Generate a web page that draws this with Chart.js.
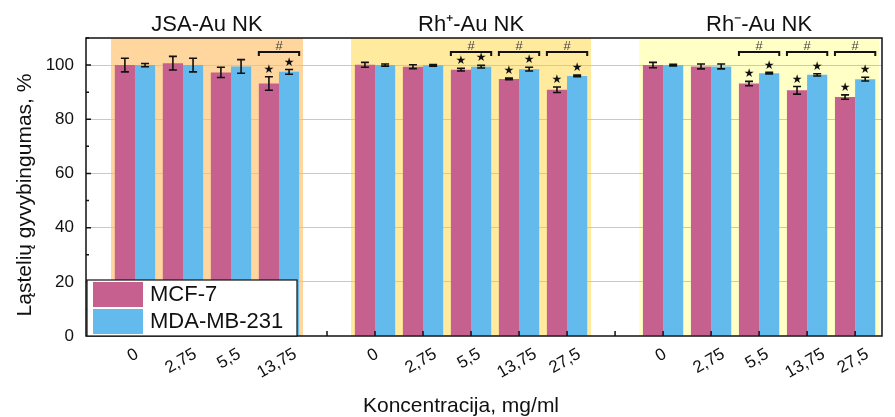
<!DOCTYPE html>
<html>
<head>
<meta charset="utf-8">
<script src="https://cdn.jsdelivr.net/npm/chart.js@4.4.0/dist/chart.umd.min.js"></script>
<style>
  body { margin: 0; background: #fff; }
  #wrap { width: 895px; height: 417px; }
</style>
</head>
<body>
<div id="wrap"><canvas id="chart"></canvas></div>
<script>
// tick labels (empty ones are the gaps between groups)
const categories = ['0', '2,75', '5,5', '13,75', '',
  '0', '2,75', '5,5', '13,75', '27,5', '',
  '0', '2,75', '5,5', '13,75', '27,5'];

const groupTitles = ['JSA-Au NK', 'Rh\u207A-Au NK', 'Rh\u207B-Au NK'];
const groupStart = [0, 5, 11];
const groupEnd = [3, 9, 15];

const mcf7 = [100.0, 100.7, 97.3, 93.2, null, 100.1, 99.4, 98.3, 94.9, 90.9, null, 100.0, 99.5, 93.2, 90.7, 88.2];
const mcf7Err = [2.5, 2.5, 1.9, 2.5, null, 0.9, 0.7, 0.5, 0.3, 1.0, null, 1.0, 0.9, 0.8, 1.4, 0.8];
const mda = [100.0, 100.0, 99.5, 97.5, null, 100.0, 99.9, 99.4, 98.5, 96.0, null, 100.0, 99.5, 97.0, 96.4, 94.8];
const mdaErr = [0.6, 2.5, 2.5, 0.9, null, 0.4, 0.3, 0.5, 0.7, 0.3, null, 0.3, 0.9, 0.3, 0.4, 0.7];

// * = significant vs control, # = significant between cell lines
const starSig = [0, 0, 0, 1, 0, 0, 0, 1, 1, 1, 0, 0, 0, 1, 1, 1];
const hashSig = [0, 0, 0, 1, 0, 0, 0, 1, 1, 1, 0, 0, 0, 1, 1, 1];

// styles
const pink = '#C5608F';
const blue = '#62BBEC';
const groupColors = ['#FED69E', '#FFEA9E', '#FFFFC6'];
const FONT = '"Liberation Sans", Arial, sans-serif';

Chart.defaults.font.family = FONT;
Chart.defaults.color = '#111';

function toPoints(arr) {
  return arr.map((v, i) => ({ x: i, y: v })).filter(p => p.y !== null);
}

const overlay = {
  id: 'overlay',
  // shading goes under the grid lines
  beforeDraw(chart) {
    const { ctx, chartArea: a, scales: { x } } = chart;
    ctx.save();
    groupStart.forEach((s, g) => {
      const l = x.getPixelForValue(s - 0.5);
      const r = x.getPixelForValue(groupEnd[g] + 0.5);
      ctx.fillStyle = groupColors[g];
      ctx.fillRect(l, a.top, r - l, a.bottom - a.top);
    });
    ctx.restore();
  },
  afterDatasetsDraw(chart) {
    const { ctx, scales: { y } } = chart;
    const errs = [mcf7Err, mdaErr];
    const vals = [mcf7, mda];
    ctx.save();
    ctx.strokeStyle = '#111';
    ctx.fillStyle = '#111';
    ctx.lineWidth = 1.6;
    const bars = [{}, {}];
    [0, 1].forEach(di => {
      const meta = chart.getDatasetMeta(di);
      const ds = chart.data.datasets[di];
      meta.data.forEach((bar, k) => {
        const i = ds.data[k].x;
        bars[di][i] = bar;
        const v = vals[di][i], e = errs[di][i];
        const top = y.getPixelForValue(v + e), bot = y.getPixelForValue(v - e);
        ctx.beginPath();
        ctx.moveTo(bar.x, top); ctx.lineTo(bar.x, bot);
        ctx.moveTo(bar.x - 4, top); ctx.lineTo(bar.x + 4, top);
        ctx.moveTo(bar.x - 4, bot); ctx.lineTo(bar.x + 4, bot);
        ctx.stroke();
        if (starSig[i]) {
          ctx.font = '12px "DejaVu Sans", sans-serif';
          ctx.textAlign = 'center';
          ctx.textBaseline = 'middle';
          ctx.fillText('\u2605', bar.x, top - 7);
        }
      });
    });
    // brackets with #
    const by = y.getPixelForValue(104.8);
    hashSig.forEach((h, i) => {
      if (!h) return;
      const p = bars[0][i], b = bars[1][i];
      const l = p.x - p.width / 2, r = b.x + b.width / 2;
      ctx.lineWidth = 2;
      ctx.beginPath();
      ctx.moveTo(l, by + 4); ctx.lineTo(l, by); ctx.lineTo(r, by); ctx.lineTo(r, by + 4);
      ctx.stroke();
      ctx.fillStyle = '#444';
      ctx.font = '13px ' + FONT;
      ctx.textAlign = 'center';
      ctx.textBaseline = 'middle';
      ctx.fillText('#', (l + r) / 2, by - 6);
      ctx.fillStyle = '#111';
    });
    ctx.restore();
  },
  afterDraw(chart) {
    const { ctx, chartArea: a, scales: { x, y } } = chart;
    ctx.save();
    // frame
    ctx.strokeStyle = '#111';
    ctx.lineWidth = 1.5;
    ctx.strokeRect(a.left, a.top, a.right - a.left, a.bottom - a.top);
    // inner ticks
    ctx.beginPath();
    for (let v = 10; v <= 110; v += 10) {
      const py = y.getPixelForValue(v);
      ctx.moveTo(a.left, py); ctx.lineTo(a.left + (v % 20 === 0 ? 5 : 3), py);
    }
    categories.forEach((c, i) => {
      const px = x.getPixelForValue(i);
      ctx.moveTo(px, a.bottom); ctx.lineTo(px, a.bottom - 5);
    });
    ctx.stroke();
    // rotated x labels
    ctx.fillStyle = '#111';
    ctx.font = '17px ' + FONT;
    ctx.textAlign = 'center';
    ctx.textBaseline = 'middle';
    categories.forEach((c, i) => {
      if (!c) return;
      const w = ctx.measureText(c).width;
      ctx.save();
      ctx.translate(x.getPixelForValue(i) - 2, a.bottom + 17 + w * 0.25);
      ctx.rotate(-Math.PI / 6);
      ctx.fillText(c, 0, 0);
      ctx.restore();
    });
    // group titles
    ctx.font = '22px ' + FONT;
    ctx.textBaseline = 'alphabetic';
    groupTitles.forEach((t, g) => {
      const cx = x.getPixelForValue((groupStart[g] + groupEnd[g]) / 2);
      ctx.fillText(t, cx, 31);
    });
    // axis titles
    ctx.font = '21px ' + FONT;
    ctx.fillText('Koncentracija, mg/ml', 461, 412);
    ctx.save();
    ctx.translate(25, (a.top + a.bottom) / 2 + 8);
    ctx.rotate(-Math.PI / 2);
    ctx.textBaseline = 'middle';
    ctx.fillText('Ląstelių gyvybingumas, %', 0, 0);
    ctx.restore();
    // legend
    const lx = a.left + 1, ly = a.bottom - 56;
    ctx.fillStyle = '#fff';
    ctx.fillRect(lx, ly, 210, 56);
    ctx.lineWidth = 1.2;
    ctx.strokeRect(lx, ly, 210, 56);
    ctx.font = '22px ' + FONT;
    ctx.textAlign = 'left';
    ctx.textBaseline = 'middle';
    chart.data.datasets.forEach((ds, k) => {
      ctx.fillStyle = ds.backgroundColor;
      ctx.fillRect(lx + 6, ly + 2 + k * 27, 50, 25);
      ctx.fillStyle = '#111';
      ctx.fillText(ds.label, lx + 63, ly + 15 + k * 27);
    });
    ctx.restore();
  }
};

new Chart(document.getElementById('chart'), {
  type: 'bar',
  data: {
    datasets: [
      { label: 'MCF-7', data: toPoints(mcf7), backgroundColor: pink },
      { label: 'MDA-MB-231', data: toPoints(mda), backgroundColor: blue }
    ]
  },
  options: {
    responsive: true,
    maintainAspectRatio: false,
    animation: false,
    layout: { padding: { top: 38, right: 13, left: 0, bottom: 0 } },
    datasets: { bar: { categoryPercentage: 0.84, barPercentage: 1.0 } },
    plugins: { legend: { display: false }, tooltip: { enabled: false } },
    scales: {
      x: {
        type: 'linear', min: -1.02, max: 15.56, offset: false,
        grid: { display: false }, border: { display: false },
        ticks: { display: false },
        afterBuildTicks: s => { s.ticks = categories.map((c, i) => ({ value: i })); },
        afterFit: s => { s.height = 81; }
      },
      y: {
        min: 0, max: 110,
        ticks: { stepSize: 20, padding: 12, font: { size: 17 }, color: '#111' },
        grid: { color: c => (c.tick && c.tick.value > 0) ? '#c8c8c8' : 'rgba(0,0,0,0)', drawTicks: false },
        border: { display: false },
        afterBuildTicks: s => { s.ticks = s.ticks.filter(t => t.value % 20 === 0); },
        afterFit: s => { s.width = 86; }
      }
    }
  },
  plugins: [overlay]
});
</script>
</body>
</html>
